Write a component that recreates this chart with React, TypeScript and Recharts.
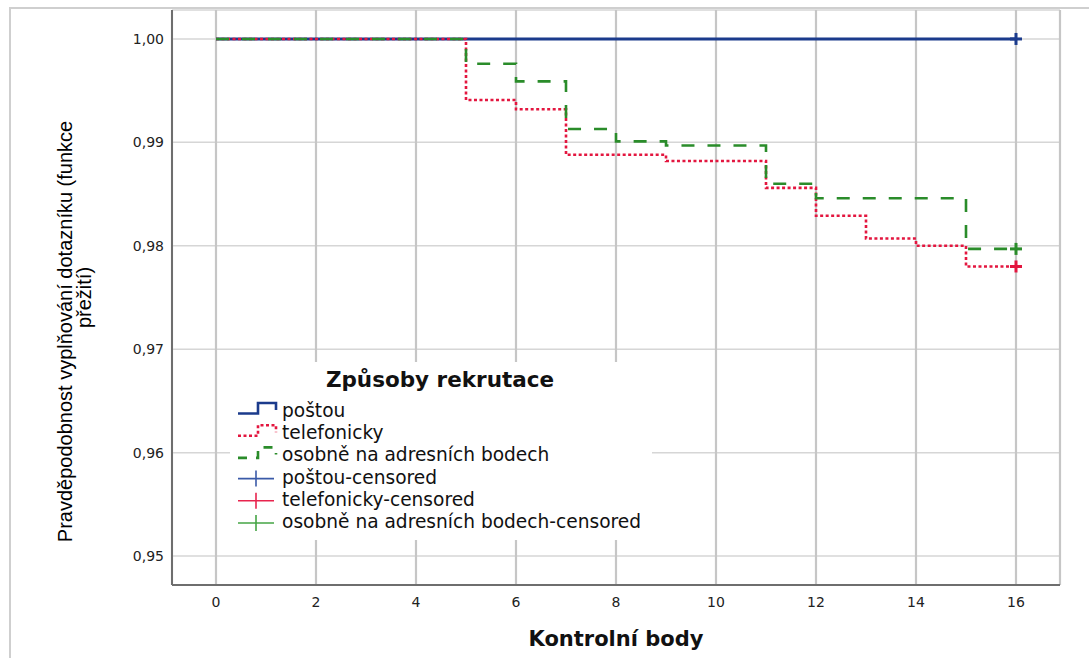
import { CartesianGrid, ComposedChart, Legend, Line, Scatter, XAxis, YAxis } from "recharts";

const xTicks = [0, 2, 4, 6, 8, 10, 12, 14, 16];
const yTicks = [0.95, 0.96, 0.97, 0.98, 0.99, 1.0];

// Kaplan-Meier steps
const postouTimes = [0, 16];
const postouSurvival = [1.0, 1.0];
const telefonickyTimes = [0, 5, 6, 7, 9, 11, 12, 13, 14, 15, 16];
const telefonickySurvival = [1.0, 0.9941, 0.9932, 0.9888, 0.9882, 0.9856, 0.9829, 0.9807, 0.98, 0.978, 0.978];
const osobneTimes = [0, 5, 6, 7, 8, 9, 11, 12, 15, 16];
const osobneSurvival = [1.0, 0.9976, 0.9959, 0.9913, 0.9901, 0.9897, 0.986, 0.9846, 0.9797, 0.9797];

// censored observations (all at the last control point)
const censoredTimes = [16];
const postouCensored = [1.0];
const telefonickyCensored = [0.978];
const osobneCensored = [0.9797];

const legendTitle = "Způsoby rekrutace";
const legendLabels = [
  "poštou",
  "telefonicky",
  "osobně na adresních bodech",
  "poštou-censored",
  "telefonicky-censored",
  "osobně na adresních bodech-censored",
];

const BLUE = "#1b3b8c";
const RED = "#e3163f";
const GREEN = "#2a8c2a";
const FONT = "'DejaVu Sans', sans-serif";
const ARIAL = "'Liberation Sans', Arial, sans-serif";

const seriesStyles = [
  { color: BLUE, dash: undefined as string | undefined, width: 3 },
  { color: RED, dash: "3 2.5", width: 2.6 },
  { color: GREEN, dash: "13 13", width: 2.6 },
];
const censoredColors = ["#3a5aa8", "#e8244e", "#45a445"];

function toPoints(xs: number[], ys: number[]) {
  return xs.map((x, i) => ({ x, y: ys[i] }));
}

const formatComma = (v: number) => v.toFixed(2).replace(".", ",");

function makePlus(color: string) {
  return (props: any) => {
    const { cx, cy } = props;
    return (
      <g>
        <line x1={cx - 6} x2={cx + 6} y1={cy} y2={cy} stroke={color} strokeWidth={3} />
        <line x1={cx} x2={cx} y1={cy - 6} y2={cy + 6} stroke={color} strokeWidth={3} />
      </g>
    );
  };
}

function YTitle(props: any) {
  const vb = props.viewBox || { x: 112, y: 10, width: 60, height: 575 };
  const mid = vb.y + vb.height / 2;
  const c1 = mid + 34;
  const c2 = mid;
  const x1 = vb.x - 40;
  const x2 = vb.x - 21;
  return (
    <g fontFamily={ARIAL} fontSize={20} fill="#000">
      <text x={x1} y={c1} textAnchor="middle" transform={`rotate(-90 ${x1} ${c1})`}>
        Pravděpodobnost vyplňování dotazníku (funkce
      </text>
      <text x={x2} y={c2} textAnchor="middle" transform={`rotate(-90 ${x2} ${c2})`}>
        přežití)
      </text>
    </g>
  );
}

function XTitle(props: any) {
  const vb = props.viewBox || { x: 172, y: 585, width: 888, height: 53 };
  return (
    <text
      x={vb.x + vb.width / 2}
      y={vb.y + 61}
      textAnchor="middle"
      fontFamily={FONT}
      fontSize={21}
      fontWeight="bold"
      fill="#111"
    >
      Kontrolní body
    </text>
  );
}

function LegendBox() {
  const rowY = (i: number) => 55 + i * 22.2;
  return (
    <svg width={422} height={178} style={{ display: "block" }}>
      <text x={210} y={25} textAnchor="middle" fontFamily={FONT} fontSize={21.5} fontWeight="bold" fill="#111">
        {legendTitle}
      </text>
      {legendLabels.map((label, i) => {
        const base = rowY(i);
        const mid = base - 5;
        let symbol;
        if (i < 3) {
          const s = seriesStyles[i];
          symbol = (
            <path
              d={`M8,${mid + 1.5} H28 V${mid - 9} H46 V${mid - 2}`}
              fill="none"
              stroke={s.color}
              strokeWidth={2.6}
              strokeDasharray={i === 1 ? "3 2.5" : i === 2 ? "9 9" : undefined}
            />
          );
        } else {
          const c = censoredColors[i - 3];
          symbol = (
            <g stroke={c} strokeWidth={1.6}>
              <line x1={8} x2={44} y1={mid} y2={mid} />
              <line x1={26} x2={26} y1={mid - 8} y2={mid + 8} />
            </g>
          );
        }
        return (
          <g key={label}>
            {symbol}
            <text x={52} y={base} fontFamily={FONT} fontSize={18.6} fill="#111">
              {label}
            </text>
          </g>
        );
      })}
    </svg>
  );
}

export default function App() {
  return (
    <div style={{ position: "absolute", left: 0, top: 0, width: 1089, height: 658, background: "#fff" }}>
      <div
        style={{
          position: "absolute",
          left: 9,
          top: 7,
          width: 1080,
          height: 651,
          borderTop: "2px solid #cfcfcf",
          borderLeft: "2px solid #cfcfcf",
        }}
      />
      <ComposedChart width={1089} height={658} margin={{ top: 10, right: 29, bottom: 20, left: 112 }}>
        <CartesianGrid vertical={false} stroke="#d6d6d6" strokeWidth={1.5} />
        <CartesianGrid horizontal={false} stroke="#c6c6c6" strokeWidth={2.2} />
        <XAxis
          type="number"
          dataKey="x"
          domain={[-0.88, 16.88]}
          ticks={xTicks}
          allowDataOverflow
          height={53}
          tickLine={false}
          tickMargin={6}
          axisLine={{ stroke: "#6e6e6e", strokeWidth: 2 }}
          tick={{ fill: "#222", fontSize: 14, fontFamily: FONT }}
          label={(p: any) => <XTitle {...p} />}
        />
        <YAxis
          type="number"
          domain={[0.9472, 1.0028]}
          ticks={yTicks}
          allowDataOverflow
          width={60}
          tickLine={false}
          tickFormatter={formatComma}
          axisLine={{ stroke: "#6e6e6e", strokeWidth: 2 }}
          tick={{ fill: "#222", fontSize: 14, fontFamily: FONT }}
          label={(p: any) => <YTitle {...p} />}
        />
        <Line
          data={toPoints(postouTimes, postouSurvival)}
          dataKey="y"
          type="stepAfter"
          stroke={BLUE}
          strokeWidth={3}
          dot={false}
          isAnimationActive={false}
        />
        <Line
          data={toPoints(telefonickyTimes, telefonickySurvival)}
          dataKey="y"
          type="stepAfter"
          stroke={RED}
          strokeWidth={2.6}
          strokeDasharray="3 2.5"
          dot={false}
          isAnimationActive={false}
        />
        <Line
          data={toPoints(osobneTimes, osobneSurvival)}
          dataKey="y"
          type="stepAfter"
          stroke={GREEN}
          strokeWidth={2.6}
          strokeDasharray="13 13"
          dot={false}
          isAnimationActive={false}
        />
        <Scatter
          data={toPoints(censoredTimes, postouCensored)}
          dataKey="y"
          shape={makePlus(BLUE)}
          isAnimationActive={false}
        />
        <Scatter
          data={toPoints(censoredTimes, telefonickyCensored)}
          dataKey="y"
          shape={makePlus(RED)}
          isAnimationActive={false}
        />
        <Scatter
          data={toPoints(censoredTimes, osobneCensored)}
          dataKey="y"
          shape={makePlus(GREEN)}
          isAnimationActive={false}
        />
        <Legend
          layout="vertical"
          align="center"
          verticalAlign="middle"
          content={() => <LegendBox />}
          wrapperStyle={{ left: 230, top: 362, width: 422, height: 178, background: "#fff" }}
        />
      </ComposedChart>
    </div>
  );
}
